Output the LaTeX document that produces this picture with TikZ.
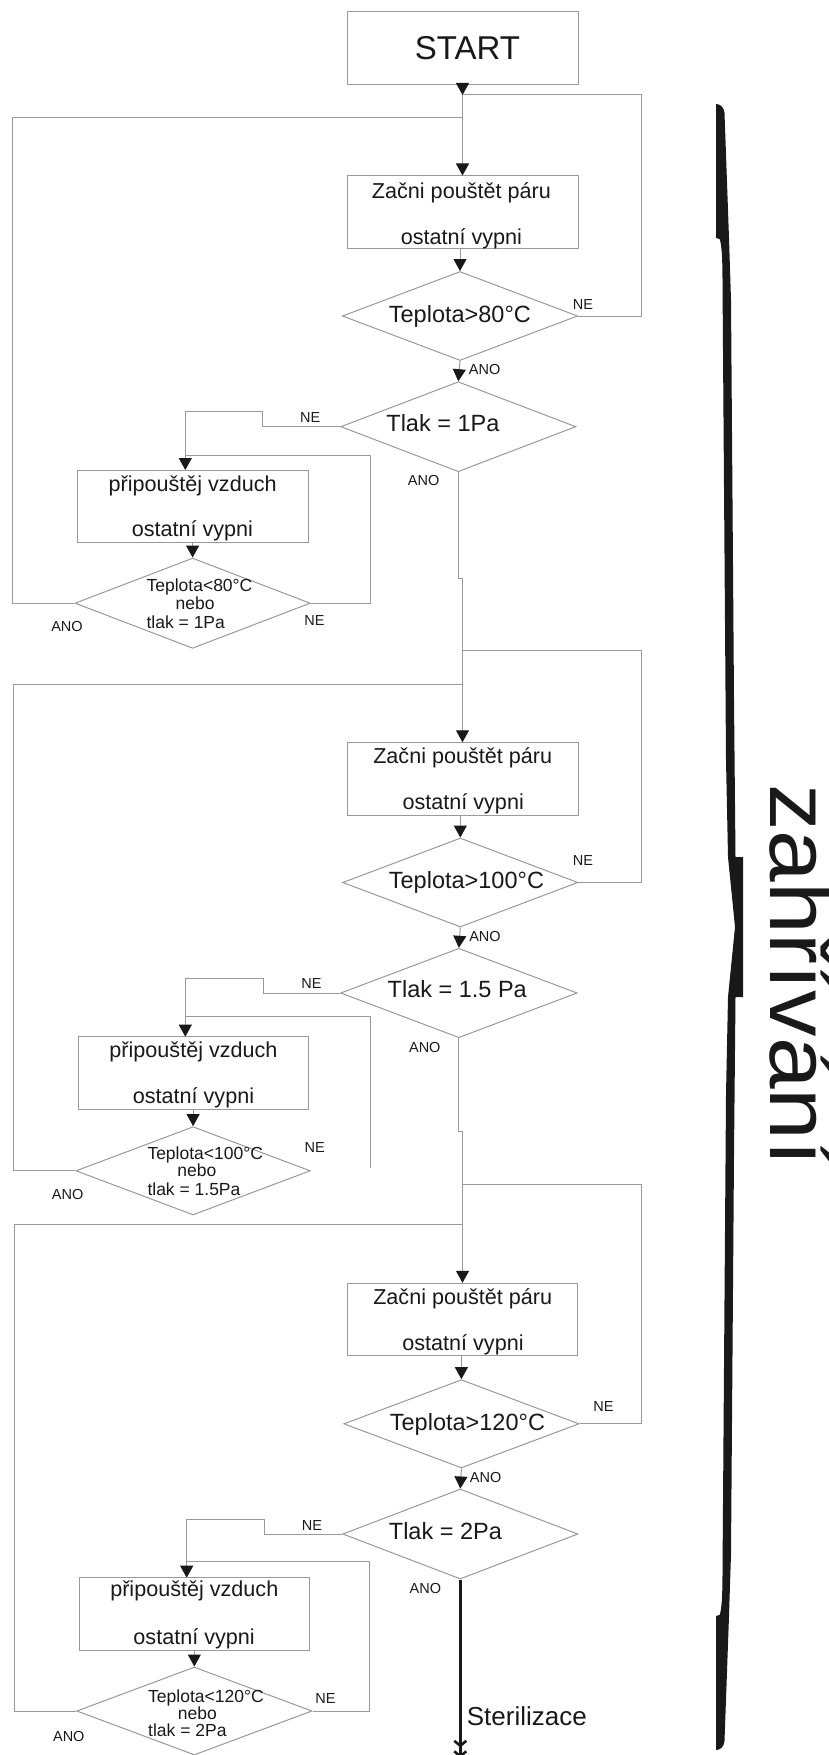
\documentclass[tikz,border=0pt]{standalone}
\usepackage{fontspec}
\setmainfont{Liberation Sans}
\usetikzlibrary{arrows.meta,shapes.geometric}
\definecolor{lc}{gray}{0.6}
\definecolor{ink}{gray}{0.1}
\tikzset{
  ln/.style={draw=lc, line width=1pt},
  arr/.style={ln, -{Triangle[width=13pt,length=12pt,color=ink]}},
  boxn/.style={draw=lc, line width=1pt, rectangle, inner sep=0pt},
  dia/.style={draw=lc, line width=1pt, diamond, inner sep=0pt},
  boxtxt/.style={inner sep=0pt, anchor=base, text=ink, font=\fontsize{21.6}{26}\selectfont},
  starttxt/.style={inner sep=0pt, anchor=base, text=ink, font=\fontsize{33}{40}\selectfont},
  diatxt/.style={inner sep=0pt, anchor=base west, text=ink, font=\fontsize{23.5}{28}\selectfont},
  smtxt/.style={inner sep=0pt, anchor=base west, text=ink, font=\fontsize{17.5}{21}\selectfont},
  lab/.style={inner sep=0pt, text=ink, font=\fontsize{14.5}{17}\selectfont},
  exitarr/.style={ink, line width=3pt,
    -{Straight Barb[length=5pt,width=12pt,line width=2.6pt,sep=2.5pt] Straight Barb[length=5pt,width=12pt,line width=2.6pt]}},
}
\begin{document}
\begin{tikzpicture}[x=1pt,y=-1pt]
\useasboundingbox (0,0) rectangle (829,1755);
\fill[white] (0,0) rectangle (829,1755);

% ================= block 1 (80 °C) =================
\node[boxn, minimum width=231pt, minimum height=72.6pt] (start) at (462.5,48) {};
\node[starttxt] (startt) at (467.5,60) {START};
\coordinate (j1) at (462.5,95);
\coordinate (l1) at (462.5,117.3);
\coordinate (r1) at (641,95);
\coordinate (w1) at (12.5,117.3);

\node[boxn, minimum width=231pt, minimum height=72pt] (a1) at (462.5,212) {};
\node[boxtxt] (a1x) at (461.4,198.3) {Začni pouštět páru};
\node[boxtxt] (a1y) at (461.4,244) {ostatní vypni};

\node[dia, minimum width=235.4pt, minimum height=89pt] (d1) at (460,316) {};
\node[diatxt] (d1x) at (388.7,322.7) {Teplota>80°C};
\node[lab] (d1ne) at (583,305) {NE};
\node[lab] (d1ano) at (484.7,369.7) {ANO};

\node[dia, minimum width=235.3pt, minimum height=90pt] (t1) at (458.3,426.7) {};
\node[diatxt] (t1x) at (386.2,431.7) {Tlak = 1Pa};
\node[lab] (t1ne) at (310.3,417.5) {NE};
\node[lab] (t1ano) at (423.7,481) {ANO};
\coordinate (n1a) at (262.5,426.7);
\coordinate (n1b) at (262.5,411.7);
\coordinate (n1c) at (185.3,411.7);
\coordinate (n1d) at (185.3,455);
\coordinate (b1in) at (185.3,470);
\coordinate (s1) at (370.5,455);

\node[boxn, minimum width=230.3pt, minimum height=72pt] (b1) at (192.85,506) {};
\node[boxtxt] (b1x) at (192.6,491.7) {připouštěj vzduch};
\node[boxtxt] (b1y) at (192.4,536.7) {ostatní vypni};

\node[dia, minimum width=235.3pt, minimum height=90.3pt] (e1) at (192.6,603.2) {};
\node[smtxt] (e1x) at (146.4,591.7) {Teplota<80°C};
\node[smtxt] (e1y) at (175.4,609.3) {nebo};
\node[smtxt] (e1z) at (146.4,628.3) {tlak = 1Pa};
\node[lab] (e1ano) at (67,627) {ANO};
\node[lab] (e1ne) at (314.5,620.5) {NE};
\coordinate (k1a) at (458.3,578.3);
\coordinate (k1b) at (462.5,578.3);

% ================= block 2 (100 °C) =================
\coordinate (j2) at (462.5,650.7);
\coordinate (l2) at (462.5,684);
\coordinate (r2) at (641,650.7);
\coordinate (w2) at (13,684);

\node[boxn, minimum width=231pt, minimum height=72.3pt] (a2) at (462.5,778.9) {};
\node[boxtxt] (a2x) at (462.7,763.3) {Začni pouštět páru};
\node[boxtxt] (a2y) at (463.2,809.3) {ostatní vypni};

\node[dia, minimum width=235.3pt, minimum height=89pt] (d2) at (460.3,882.5) {};
\node[diatxt] (d2x) at (388.7,888.3) {Teplota>100°C};
\node[lab] (d2ne) at (583,861) {NE};
\node[lab] (d2ano) at (485,936) {ANO};

\node[dia, minimum width=236.6pt, minimum height=89.4pt] (t2) at (458.9,993) {};
\node[diatxt] (t2x) at (387.5,997.7) {Tlak = 1.5 Pa};
\node[lab] (t2ne) at (311.4,984) {NE};
\node[lab] (t2ano) at (424.8,1047) {ANO};
\coordinate (n2a) at (263.4,993);
\coordinate (n2b) at (263.4,978.3);
\coordinate (n2c) at (185.3,978.3);
\coordinate (n2d) at (185.3,1016.3);
\coordinate (b2in) at (185.3,1036.7);
\coordinate (s2) at (370.5,1016.3);
\coordinate (s2b) at (370.5,1168.3);

\node[boxn, minimum width=230.3pt, minimum height=72.6pt] (b2) at (193.75,1073) {};
\node[boxtxt] (b2x) at (193.5,1057.7) {připouštěj vzduch};
\node[boxtxt] (b2y) at (193.5,1103.3) {ostatní vypni};

\node[dia, minimum width=234.4pt, minimum height=88.3pt] (e2) at (193.1,1170.8) {};
\node[smtxt] (e2x) at (147.3,1159.3) {Teplota<100°C};
\node[smtxt] (e2y) at (177.2,1176.7) {nebo};
\node[smtxt] (e2z) at (147.3,1195.7) {tlak = 1.5Pa};
\node[lab] (e2ano) at (67.6,1194) {ANO};
\node[lab] (e2ne) at (314.7,1147.7) {NE};
\coordinate (k2a) at (458.9,1131.7);
\coordinate (k2b) at (462.5,1131.7);

% ================= block 3 (120 °C) =================
\coordinate (j3) at (462.5,1184);
\coordinate (l3) at (462.5,1224.3);
\coordinate (r3) at (641,1184);
\coordinate (w3) at (14.5,1224.3);

\node[boxn, minimum width=230pt, minimum height=72pt] (a3) at (462.5,1319.3) {};
\node[boxtxt] (a3x) at (462.7,1304) {Začni pouštět páru};
\node[boxtxt] (a3y) at (463,1350) {ostatní vypni};

\node[dia, minimum width=235.3pt, minimum height=88.3pt] (d3) at (461.4,1423.8) {};
\node[diatxt] (d3x) at (389.7,1430) {Teplota>120°C};
\node[lab] (d3ne) at (603.4,1406) {NE};
\node[lab] (d3ano) at (485.7,1477) {ANO};

\node[dia, minimum width=235.3pt, minimum height=90pt] (t3) at (460.3,1534) {};
\node[diatxt] (t3x) at (388.7,1539.3) {Tlak = 2Pa};
\node[lab] (t3ne) at (312,1525) {NE};
\node[lab] (t3ano) at (425.4,1588) {ANO};
\coordinate (n3a) at (264.4,1534);
\coordinate (n3b) at (264.4,1519.3);
\coordinate (n3c) at (186.7,1519.3);
\coordinate (n3d) at (186.7,1561.7);
\coordinate (b3in) at (186.7,1577.7);
\coordinate (s3) at (369.1,1561.7);

\node[boxn, minimum width=230.1pt, minimum height=72.3pt] (b3) at (194.35,1613.85) {};
\node[boxtxt] (b3x) at (194.3,1596.7) {připouštěj vzduch};
\node[boxtxt] (b3y) at (194.1,1644) {ostatní vypni};

\node[dia, minimum width=235.3pt, minimum height=88pt] (e3) at (194.35,1711) {};
\node[smtxt] (e3x) at (148,1702.3) {Teplota<120°C};
\node[smtxt] (e3y) at (177.7,1719.3) {nebo};
\node[smtxt] (e3z) at (148,1736.7) {tlak = 2Pa};
\node[lab] (e3ano) at (68.8,1736) {ANO};
\node[lab] (e3ne) at (325.5,1698) {NE};

\coordinate (ster) at (460.3,1758);
\node[inner sep=0pt, anchor=base west, text=ink, font=\fontsize{26}{31}\selectfont] (stert) at (466.7,1725) {Sterilizace};

% ================= connectors =================
% block 1
\draw[arr] (start.south) -- (j1);
\draw[arr] (j1) -- (a1.north);
\draw[arr] (d1.north |- a1.south) -- (d1.north);
\draw[ln] (d1.east) -| (r1) -- (j1);
\draw[arr] (d1.south) -- (t1.north);
\draw[arr] (t1.west) -- (n1a) -- (n1b) -- (n1c) -- (b1in);
\draw[arr] (e1.north |- b1.south) -- (e1.north);
\draw[ln] (e1.east) -| (s1) -- (n1d);
\draw[ln] (e1.west) -| (w1) -- (l1);
\draw[arr] (t1.south) -- (k1a) -- (k1b) -- (a2.north);
% block 2
\draw[arr] (d2.north |- a2.south) -- (d2.north);
\draw[ln] (d2.east) -| (r2) -- (j2);
\draw[arr] (d2.south) -- (t2.north);
\draw[arr] (t2.west) -- (n2a) -- (n2b) -- (n2c) -- (b2in);
\draw[arr] (e2.north |- b2.south) -- (e2.north);
\draw[ln] (s2b) -- (s2) -- (n2d);
\draw[ln] (e2.west) -| (w2) -- (l2);
\draw[arr] (t2.south) -- (k2a) -- (k2b) -- (a3.north);
% block 3
\draw[arr] (d3.north |- a3.south) -- (d3.north);
\draw[ln] (d3.east) -| (r3) -- (j3);
\draw[arr] (d3.south) -- (t3.north);
\draw[arr] (t3.west) -- (n3a) -- (n3b) -- (n3c) -- (b3in);
\draw[arr] (e3.north |- b3.south) -- (e3.north);
\draw[ln] (e3.east) -| (s3) -- (n3d);
\draw[ln] (e3.west) -| (w3) -- (l3);
% exit to sterilisation
\draw[exitarr] (t3.south) -- (ster);

% ================= brace and phase name =================
\fill[ink] (716,104) .. controls (720,104) and (724,107) .. (724.5,113)
  -- (729,238) -- (731,300) -- (734,700) -- (735.5,857) -- (743,857)
  -- (743,997) -- (735.5,997) -- (734,1154) -- (731,1554) -- (729,1616)
  -- (724.5,1741) .. controls (724,1747) and (720,1750) .. (716,1750)
  -- (716,1616) -- (719.5,1615) .. controls (722,1610) and (722.5,1590) .. (722.5,1572)
  -- (726,1094) -- (728,997) -- (735,927) -- (728,857) -- (726,760)
  -- (722.5,282) .. controls (722.5,264) and (722,244) .. (719.5,239)
  -- (716,238) -- cycle;
\node[inner sep=0pt, anchor=base west, rotate=-90, text=ink, font=\fontsize{86}{100}\selectfont] (phase) at (770,784) {\scalebox{1.08}[1]{zahřívání}};
\end{tikzpicture}
\end{document}
